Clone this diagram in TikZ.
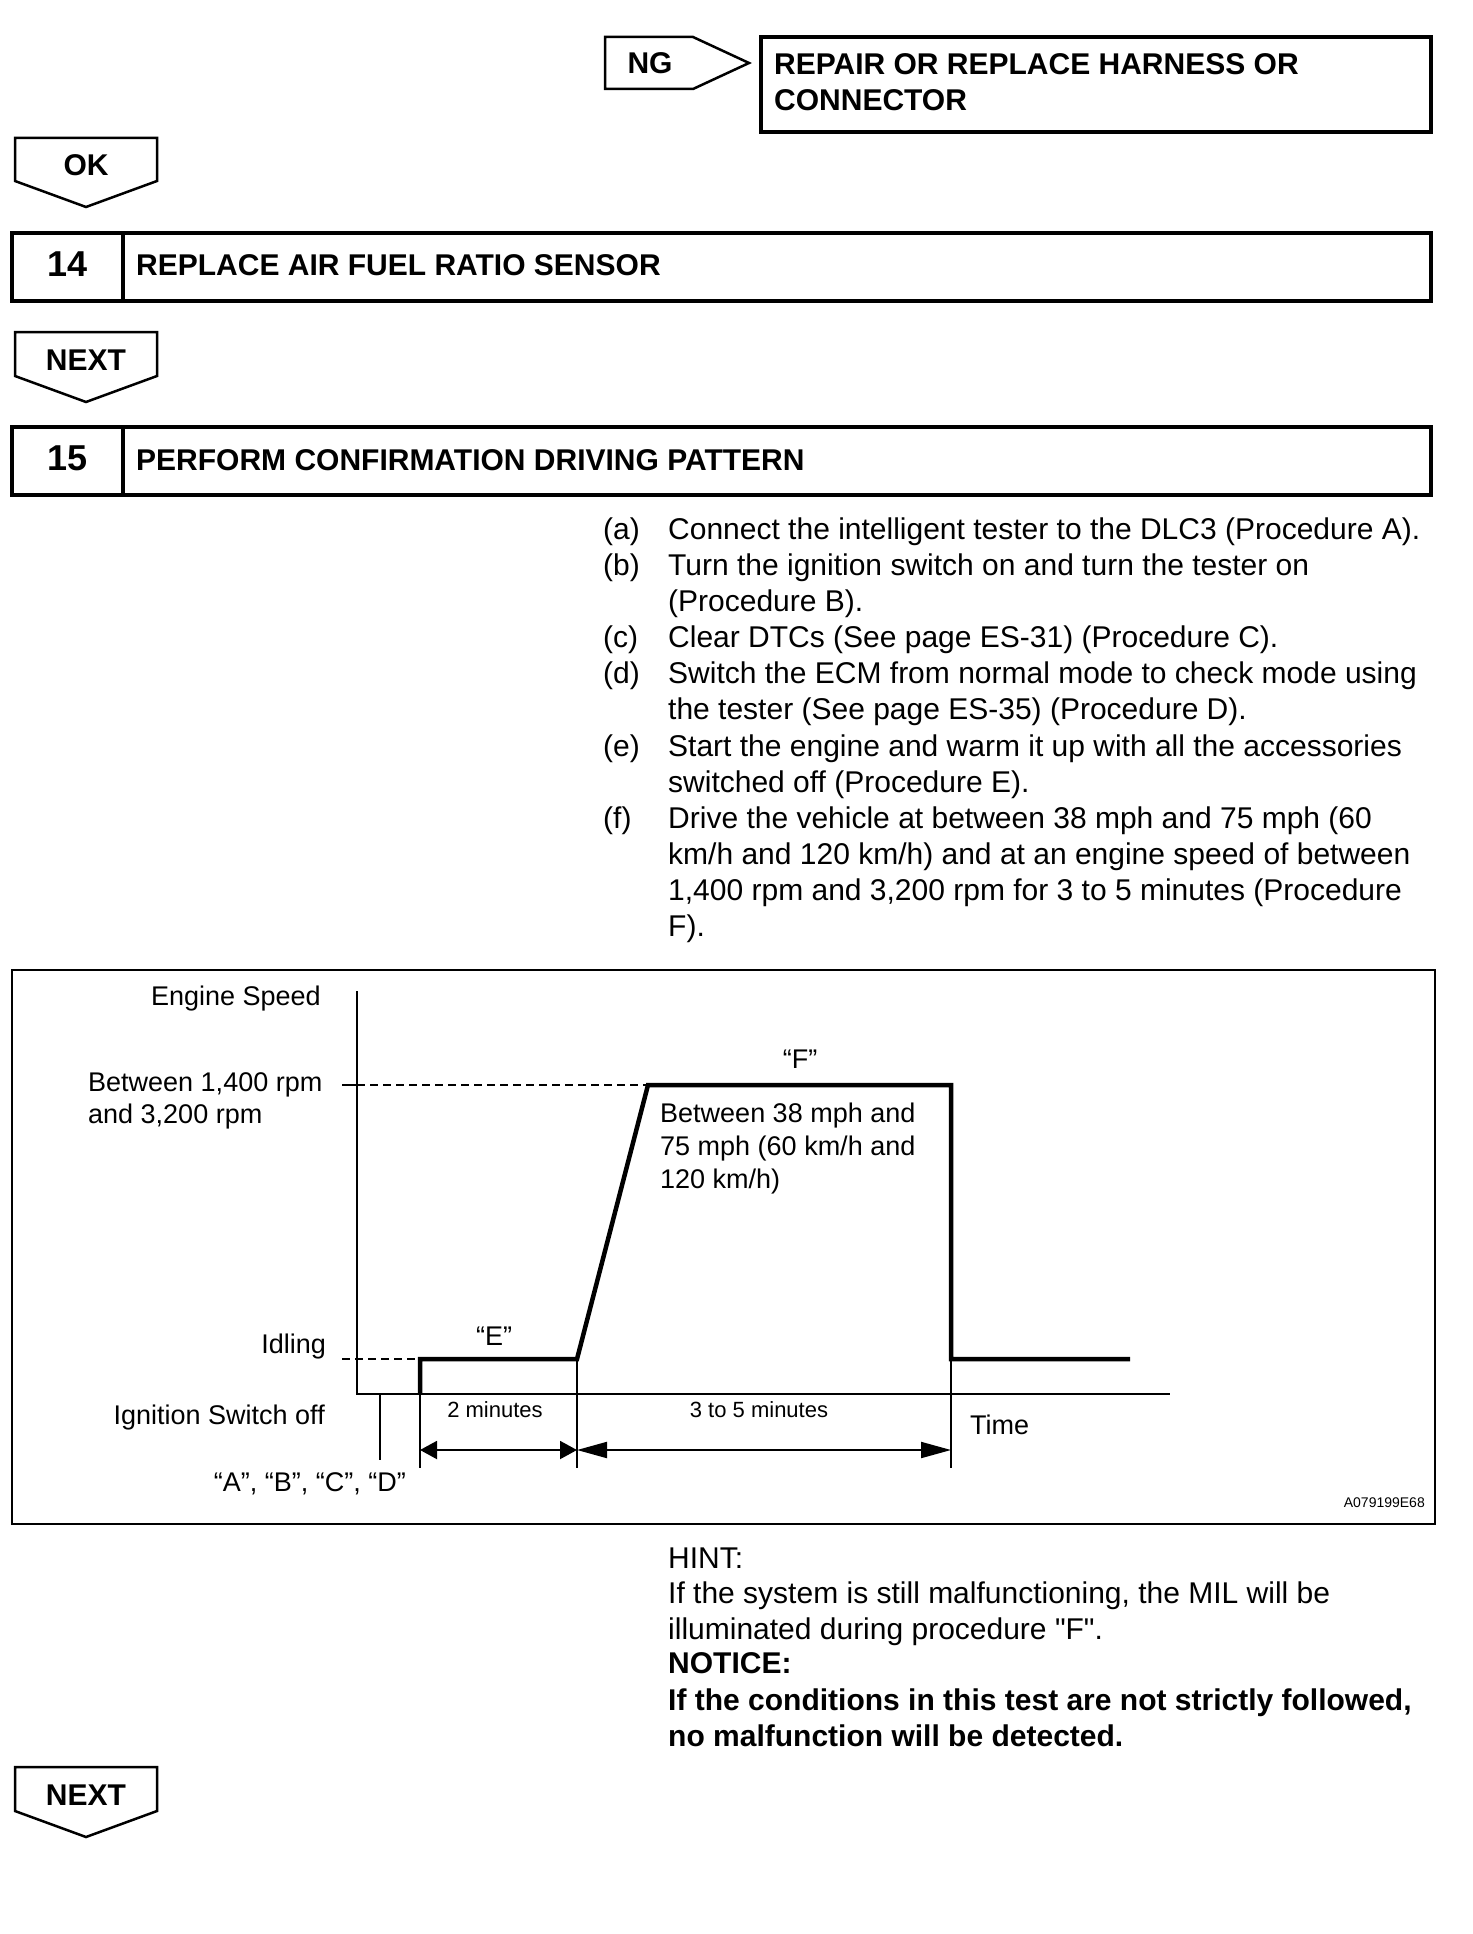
\documentclass[tikz,border=0pt]{standalone}
\usepackage{fontspec}
\setmainfont{Liberation Sans}[Ligatures=TeXOff]
\usetikzlibrary{arrows.meta}

\begin{document}
\begin{tikzpicture}[x=1pt, y=-1pt,
    tagbox/.style={draw, line width=2.5pt, line join=miter},
    stepbox/.style={draw, line width=3.5pt},
    tagtext/.style={font=\fontsize{30}{36}\selectfont\bfseries, inner sep=0pt},
    headtext/.style={font=\fontsize{30}{36}\selectfont\bfseries, anchor=base west, inner sep=0pt},
    bodytext/.style={font=\fontsize{30}{36}\selectfont, anchor=base west, inner sep=0pt},
    charttext/.style={font=\fontsize{27}{32}\selectfont, inner sep=0pt},
    smalltext/.style={font=\fontsize{22}{26}\selectfont, inner sep=0pt},
    speedline/.style={line width=4.5pt, line join=miter},
    guideline/.style={line width=1.6pt, dash pattern=on 8pt off 5pt},
    axisline/.style={line width=2pt},
    shortspan/.style={line width=2pt, {Triangle[length=17pt,width=18pt]}-{Triangle[length=17pt,width=18pt]}},
    longspan/.style={line width=2pt, {Triangle[length=30pt,width=16pt]}-{Triangle[length=30pt,width=16pt]}}
]
    \useasboundingbox (0,0) rectangle (1472,1934);

    % NG branch
    \draw[tagbox] (605,37) -- (693,37) -- (749,63) -- (693,89) -- (605,89) -- cycle;
    \node[tagtext] (ng) at (650,63) {NG};
    \draw[stepbox] (761,37) rectangle (1431,132);
    \node[headtext] (repair1) at (774,75) {REPAIR OR REPLACE HARNESS OR};
    \node[headtext] (repair2) at (774,111) {CONNECTOR};

    % OK tag
    \draw[tagbox] (15,138) -- (157,138) -- (157,181) -- (86,207) -- (15,181) -- cycle;
    \node[tagtext] (ok) at (86,165) {OK};

    % step 14
    \draw[stepbox] (12,233) rectangle (1431,301);
    \draw[stepbox] (123,233) -- (123,301);
    \node[font=\fontsize{36}{40}\selectfont\bfseries, inner sep=0pt] (num14) at (68,264) {14};
    \node[headtext] (step14) at (136,276) {REPLACE AIR FUEL RATIO SENSOR};

    % NEXT tag
    \draw[tagbox] (15,332) -- (157,332) -- (157,376) -- (86,402) -- (15,376) -- cycle;
    \node[tagtext] (next1) at (86,360) {NEXT};

    % step 15
    \draw[stepbox] (12,427) rectangle (1431,495);
    \draw[stepbox] (123,427) -- (123,495);
    \node[font=\fontsize{36}{40}\selectfont\bfseries, inner sep=0pt] (num15) at (68,458) {15};
    \node[headtext] (step15) at (136,470) {PERFORM CONFIRMATION DRIVING PATTERN};

    % procedure list
    \node[bodytext] (la) at (603,539) {(a)};
    \node[bodytext] (ta) at (668,539) {Connect the intelligent tester to the DLC3 (Procedure A).};
    \node[bodytext] (lb) at (603,575) {(b)};
    \node[bodytext] (tb1) at (668,575) {Turn the ignition switch on and turn the tester on};
    \node[bodytext] (tb2) at (668,611) {(Procedure B).};
    \node[bodytext] (lc) at (603,647) {(c)};
    \node[bodytext] (tc) at (668,647) {Clear DTCs (See page ES-31) (Procedure C).};
    \node[bodytext] (ld) at (603,683) {(d)};
    \node[bodytext] (td1) at (668,683) {Switch the ECM from normal mode to check mode using};
    \node[bodytext] (td2) at (668,719) {the tester (See page ES-35) (Procedure D).};
    \node[bodytext] (le) at (603,756) {(e)};
    \node[bodytext] (te1) at (668,756) {Start the engine and warm it up with all the accessories};
    \node[bodytext] (te2) at (668,792) {switched off (Procedure E).};
    \node[bodytext] (lf) at (603,828) {(f)};
    \node[bodytext] (tf1) at (668,828) {Drive the vehicle at between 38 mph and 75 mph (60};
    \node[bodytext] (tf2) at (668,864) {km/h and 120 km/h) and at an engine speed of between};
    \node[bodytext] (tf3) at (668,900) {1,400 rpm and 3,200 rpm for 3 to 5 minutes (Procedure};
    \node[bodytext] (tf4) at (668,936) {F).};

    % driving pattern chart
    \draw[line width=2.5pt] (12,970) rectangle (1435,1524);
    \coordinate (origin) at (357,1394);
    \coordinate (ytop) at (357,991);
    \coordinate (xend) at (1170,1394);
    \draw[axisline] (ytop) -- (origin) -- (xend);
    \draw[axisline] (342,1085) -- (357,1085);
    \draw[guideline] (357,1085) -- (648,1085);
    \draw[guideline] (342,1359) -- (420,1359);
    \draw[speedline] (420,1394) -- (420,1359) -- (577,1359) -- (648,1085)
        -- (951,1085) -- (951,1359) -- (1130,1359);

    % time marks
    \draw[axisline] (380,1394) -- (380,1460);
    \draw[axisline] (420,1394) -- (420,1468);
    \draw[axisline] (577,1359) -- (577,1468);
    \draw[axisline] (951,1359) -- (951,1468);
    \draw[shortspan] (420,1450) -- (577,1450);
    \draw[longspan] (577,1450) -- (951,1450);

    % chart labels
    \node[charttext, anchor=base east] (speed) at (321,1005) {Engine Speed};
    \node[charttext, anchor=base west] (rpm1) at (88,1091) {Between 1,400 rpm};
    \node[charttext, anchor=base west] (rpm2) at (88,1123) {and 3,200 rpm};
    \node[charttext, anchor=base east] (idle) at (326,1353) {Idling};
    \node[charttext, anchor=base east] (ignoff) at (325,1424) {Ignition Switch off};
    \node[charttext, anchor=base east] (abcd) at (406,1491) {“A”, “B”, “C”, “D”};
    \node[charttext] (procE) at (494,1336) {“E”};
    \node[charttext] (procF) at (800,1059) {“F”};
    \node[charttext, anchor=base west] (mph1) at (660,1122) {Between 38 mph and};
    \node[charttext, anchor=base west] (mph2) at (660,1155) {75 mph (60 km/h and};
    \node[charttext, anchor=base west] (mph3) at (660,1188) {120 km/h)};
    \node[smalltext] (twomin) at (495,1410) {2 minutes};
    \node[smalltext] (threemin) at (759,1410) {3 to 5 minutes};
    \node[charttext, anchor=west] (time) at (970,1425) {Time};
    \node[font=\fontsize{14}{16}\selectfont, inner sep=0pt, anchor=east] (figid) at (1425,1503) {A079199E68};

    % hint and notice
    \node[bodytext] (hint) at (668,1568) {HINT:};
    \node[bodytext] (hint1) at (668,1603) {If the system is still malfunctioning, the MIL will be};
    \node[bodytext] (hint2) at (668,1639) {illuminated during procedure "F".};
    \node[headtext] (notice) at (668,1673) {NOTICE:};
    \node[headtext] (notice1) at (668,1710) {If the conditions in this test are not strictly followed,};
    \node[headtext] (notice2) at (668,1746) {no malfunction will be detected.};

    % NEXT tag
    \draw[tagbox] (15,1767) -- (157,1767) -- (157,1811) -- (86,1837) -- (15,1811) -- cycle;
    \node[tagtext] (next2) at (86,1795) {NEXT};
\end{tikzpicture}
\end{document}
